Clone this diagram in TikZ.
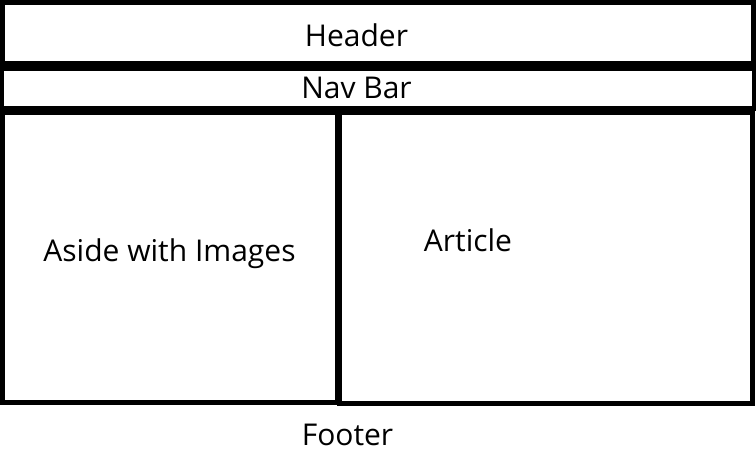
\documentclass[tikz,border=0pt]{standalone}
\usepackage{fontspec}
\setmainfont{Open Sans}
\begin{document}
\begin{tikzpicture}[x=1pt,y=-1pt,line width=5pt,
  lbl/.style={anchor=base,inner sep=0pt,font=\fontsize{30}{36}\selectfont}]
\useasboundingbox (0,0) rectangle (756,459);
%boxes
\draw (2.5,2.5) rectangle (753.5,63.5);
\draw (1.5,68.5) rectangle (754,108);
\draw (2.5,112.5) rectangle (337.5,402.5);
\draw (339.5,112.5) rectangle (752.5,403.5);
%labels
\node[lbl] (header) at (356.5,46) {Header};
\node[lbl] (nav) at (356.5,98.5) {Nav Bar};
\node[lbl] (aside) at (169.5,261) {Aside with Images};
\node[lbl] (article) at (468,251) {Article};
\node[lbl] (footer) at (347.5,445) {Footer};
\end{tikzpicture}
\end{document}
